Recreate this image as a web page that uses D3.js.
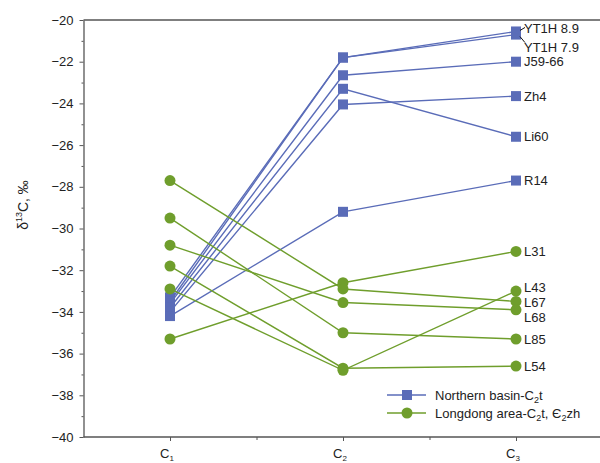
<!DOCTYPE html>
<html>
<head>
<meta charset="utf-8">
<script src="https://cdn.jsdelivr.net/npm/d3@7"></script>
<style>
  body { margin: 0; background: #fff; }
  svg { display: block; font-family: "Liberation Sans", Arial, sans-serif; }
</style>
</head>
<body>
<svg id="chart" width="600" height="463"></svg>
<script>
// ---- data ----
const categories = ["1", "2", "3"]; // C1, C2, C3 (subscripts)
const northNames = ["YT1H 8.9", "YT1H 7.9", "J59-66", "Li60", "Zh4", "R14"];
const northValues = [
  [-33.3, -21.8, -20.55],
  [-33.5, -21.8, -20.7],
  [-33.6, -22.65, -22.0],
  [-33.8, -23.3, -25.6],
  [-34.0, -24.05, -23.65],
  [-34.2, -29.2, -27.7]
];
const longNames = ["L31", "L43", "L67", "L68", "L85", "L54"];
const longValues = [
  [-35.3, -32.6, -31.1],
  [-32.9, -36.8, -33.0],
  [-27.7, -32.9, -33.5],
  [-30.8, -33.55, -33.9],
  [-29.5, -35.0, -35.3],
  [-31.8, -36.7, -36.6]
];
const yTicks = [-40, -38, -36, -34, -32, -30, -28, -26, -24, -22, -20];
const yMinorTicks = [-39, -37, -35, -33, -31, -29, -27, -25, -23, -21];
const legendItems = ["north", "long"];

// ---- styles ----
const blue = "#5a6cb8";
const green = "#6f9e2c";
const textCol = "#222";

const svg = d3.select("#chart");
const x = d3.scaleLinear().domain([0, 2]).range([170, 516]);
const y = d3.scaleLinear().domain([-40, -20]).range([437, 20]);
const xLeft = x(-0.5), xRight = 600;

// frame top
svg.append("line").attr("x1", xLeft).attr("x2", xRight).attr("y1", y(-20)).attr("y2", y(-20))
  .attr("stroke", "#555").attr("stroke-width", 1.3);

// y axis
const yAxis = svg.append("g").attr("transform", `translate(${xLeft},0)`)
  .call(d3.axisLeft(y).tickValues(yTicks).tickSize(4).tickPadding(6).tickSizeOuter(0));
yAxis.select(".domain").attr("stroke", "#555").attr("stroke-width", 1.3);
yAxis.selectAll(".tick line").attr("stroke", "#555");
yAxis.selectAll(".tick text").attr("font-size", 13).attr("fill", textCol)
  .attr("font-family", "Liberation Sans, Arial, sans-serif");
svg.append("g").attr("transform", `translate(${xLeft},0)`)
  .call(d3.axisLeft(y).tickValues(yMinorTicks).tickSize(2).tickFormat(""))
  .call(g => { g.select(".domain").remove(); g.selectAll("line").attr("stroke", "#555"); });

// x axis
const xAxisG = svg.append("g").attr("transform", `translate(0,${y(-40)})`)
  .call(d3.axisBottom(x).tickValues([0, 1, 2]).tickSize(4).tickFormat("").tickSizeOuter(0));
xAxisG.select(".domain").attr("d", `M${xLeft},0H${xRight}`).attr("stroke", "#555").attr("stroke-width", 1.3);
xAxisG.selectAll(".tick line").attr("stroke", "#555");
svg.append("g").attr("transform", `translate(0,${y(-40)})`)
  .call(d3.axisBottom(x).tickValues([0.5, 1.5]).tickSize(3).tickFormat(""))
  .call(g => { g.select(".domain").remove(); g.selectAll("line").attr("stroke", "#555"); });

const xl = svg.append("g").selectAll("text").data(categories).join("text")
  .attr("x", (d, i) => x(i) - 3).attr("y", 458).attr("text-anchor", "middle")
  .attr("font-size", 13).attr("fill", textCol);
xl.append("tspan").text("C");
xl.append("tspan").attr("font-size", 8).attr("dy", 2.5).text(d => d);

// y label
const yl = svg.append("text").attr("transform", "translate(28,205) rotate(-90)")
  .attr("text-anchor", "middle").attr("font-size", 14).attr("fill", textCol);
yl.append("tspan").text("δ");
yl.append("tspan").attr("font-size", 9).attr("dy", -6).text("13");
yl.append("tspan").attr("dy", 6).text("C, ‰");

const line = d3.line().x((d, i) => x(i)).y(d => y(d));

// Northern basin
const gN = svg.append("g");
gN.selectAll("path").data(northValues).join("path")
  .attr("d", line).attr("fill", "none").attr("stroke", blue).attr("stroke-width", 1.4);
northValues.forEach(vals => {
  gN.append("g").selectAll("rect").data(vals).join("rect")
    .attr("x", (d, i) => x(i) - 5).attr("y", d => y(d) - 5)
    .attr("width", 10).attr("height", 10).attr("fill", blue);
});

// Longdong
const gL = svg.append("g");
gL.selectAll("path").data(longValues).join("path")
  .attr("d", line).attr("fill", "none").attr("stroke", green).attr("stroke-width", 1.4);
longValues.forEach(vals => {
  gL.append("g").selectAll("circle").data(vals).join("circle")
    .attr("cx", (d, i) => x(i)).attr("cy", d => y(d)).attr("r", 5.5).attr("fill", green);
});

// point labels
const labelOffsets = { "YT1H 8.9": -3.5, "YT1H 7.9": 13, "L43": -4, "L67": 0.5, "L68": 8 };
const labG = svg.append("g").attr("font-size", 13).attr("fill", textCol);
northNames.forEach((n, k) => {
  const vy = y(northValues[k][2]) + (labelOffsets[n] || 0);
  labG.append("text").attr("x", x(2) + 8).attr("y", vy).attr("dy", "0.35em").text(n);
});
longNames.forEach((n, k) => {
  const vy = y(longValues[k][2]) + (labelOffsets[n] || 0);
  labG.append("text").attr("x", x(2) + 8).attr("y", vy).attr("dy", "0.35em").text(n);
});
// leader lines for YT1H labels
svg.append("path")
  .attr("d", `M${x(2) + 4},${y(northValues[0][2]) - 1}L${x(2) + 9},${y(northValues[0][2]) - 4}` +
             `M${x(2) + 4},${y(northValues[1][2]) + 2}L${x(2) + 9},${y(northValues[1][2]) + 8}`)
  .attr("stroke", "#111").attr("stroke-width", 1).attr("fill", "none");

// legend
const leg = svg.append("g").attr("font-size", 13).attr("fill", textCol);
legendItems.forEach((key, i) => {
  const ly = 395 + i * 18;
  const col = key === "north" ? blue : green;
  leg.append("line").attr("x1", 387).attr("x2", 426).attr("y1", ly).attr("y2", ly)
    .attr("stroke", col).attr("stroke-width", 1.4);
  if (key === "north") {
    leg.append("rect").attr("x", 402).attr("y", ly - 5).attr("width", 10).attr("height", 10).attr("fill", col);
  } else {
    leg.append("circle").attr("cx", 407).attr("cy", ly).attr("r", 5.5).attr("fill", col);
  }
  const t = leg.append("text").attr("x", 435).attr("y", ly).attr("dy", "0.35em");
  if (key === "north") {
    t.append("tspan").text("Northern basin-C");
    t.append("tspan").attr("font-size", 9).attr("dy", 3).text("2");
    t.append("tspan").attr("dy", -3).text("t");
  } else {
    t.append("tspan").text("Longdong area-C");
    t.append("tspan").attr("font-size", 9).attr("dy", 3).text("2");
    t.append("tspan").attr("dy", -3).text("t, Є");
    t.append("tspan").attr("font-size", 9).attr("dy", 3).text("2");
    t.append("tspan").attr("dy", -3).text("zh");
  }
});
</script>
</body>
</html>
